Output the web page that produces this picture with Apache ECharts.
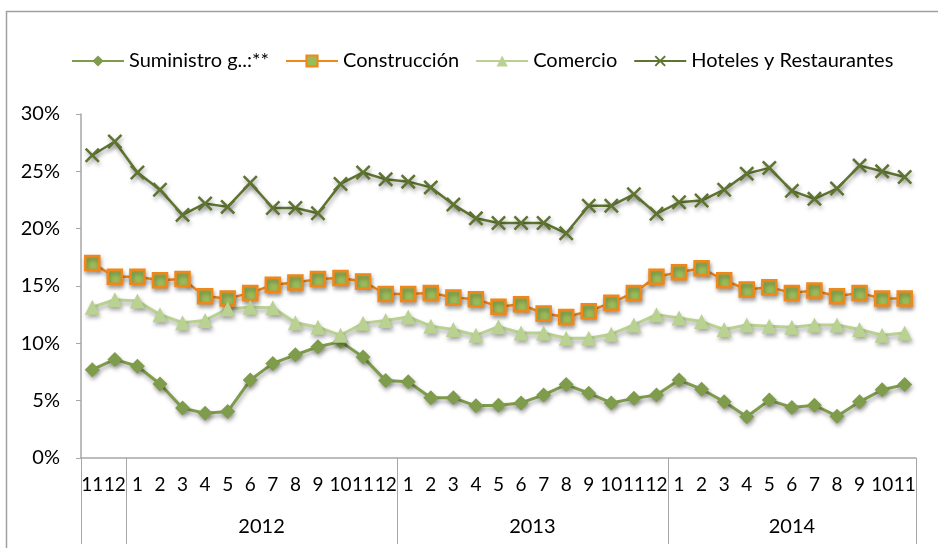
<!DOCTYPE html>
<html>
<head>
<meta charset="utf-8">
<script src="https://cdn.jsdelivr.net/npm/echarts@6/dist/echarts.min.js"></script>
<style>
  html, body { margin: 0; padding: 0; background: #fff; }
  #main { width: 938px; height: 548px; }
</style>
</head>
<body>
<div id="main"></div>
<script>
// meses (nov 2011 - nov 2014)
var months = ['11','12','1','2','3','4','5','6','7','8','9','10','11','12',
  '1','2','3','4','5','6','7','8','9','10','11','12',
  '1','2','3','4','5','6','7','8','9','10','11'];
var years = ['2012', '2013', '2014'];
var yearBounds = [0, 2, 14, 26, 37];
var yearCenters = [8, 20, 31.5];

var suministro = [7.7, 8.6, 8.0, 6.45, 4.35, 3.9, 4.05, 6.8, 8.25, 9.0, 9.7, 10.15, 8.8, 6.75,
  6.65, 5.25, 5.25, 4.55, 4.6, 4.8, 5.5, 6.4, 5.65, 4.8, 5.2, 5.5,
  6.8, 6.0, 4.9, 3.6, 5.05, 4.4, 4.6, 3.65, 4.9, 5.95, 6.4];
var construccion = [17.0, 15.8, 15.8, 15.5, 15.6, 14.1, 13.9, 14.4, 15.1, 15.3, 15.6, 15.7, 15.4, 14.3,
  14.3, 14.4, 14.0, 13.85, 13.2, 13.4, 12.6, 12.3, 12.8, 13.55, 14.4, 15.8,
  16.2, 16.55, 15.5, 14.7, 14.9, 14.4, 14.6, 14.1, 14.4, 13.9, 13.9];
var comercio = [13.15, 13.8, 13.7, 12.5, 11.8, 12.0, 13.0, 13.15, 13.1, 11.8, 11.4, 10.7, 11.75, 12.0,
  12.3, 11.5, 11.2, 10.7, 11.45, 10.9, 10.9, 10.45, 10.45, 10.8, 11.6, 12.5,
  12.2, 11.9, 11.2, 11.6, 11.5, 11.4, 11.6, 11.6, 11.2, 10.7, 10.9];
var hoteles = [26.4, 27.6, 24.9, 23.4, 21.2, 22.2, 21.9, 24.0, 21.8, 21.8, 21.35, 23.9, 24.9, 24.3,
  24.1, 23.6, 22.1, 20.9, 20.5, 20.5, 20.5, 19.6, 22.0, 22.0, 23.0, 21.3,
  22.3, 22.45, 23.4, 24.8, 25.3, 23.3, 22.6, 23.5, 25.5, 25.0, 24.5];

var font = "Lato, 'Noto Sans', sans-serif";
var axisGray = '#a6a6a6';
var xShape = 'path://M1.2,0 L5,3.8 L8.8,0 L10,1.2 L6.2,5 L10,8.8 L8.8,10 L5,6.2 L1.2,10 L0,8.8 L3.8,5 L0,1.2 Z';
var shadow = { shadowColor: 'rgba(0,0,0,0.35)', shadowBlur: 4, shadowOffsetX: 1, shadowOffsetY: 3 };

function lineSeries(name, data, color, symbol, size, extra) {
  var s = {
    name: name,
    type: 'line',
    data: data,
    symbol: symbol,
    symbolSize: size,
    showAllSymbol: true,
    lineStyle: Object.assign({ color: color, width: 3 }, shadow),
    itemStyle: Object.assign({ color: color }, shadow),
    emphasis: { disabled: true }
  };
  return Object.assign(s, extra || {});
}

var chart = echarts.init(document.getElementById('main'));
chart.setOption({
  animation: false,
  textStyle: { fontFamily: font },
  graphic: [{
    type: 'rect',
    shape: { x: 6.5, y: 11.5, width: 1000, height: 600 },
    style: { fill: 'none', stroke: '#a0a0a0', lineWidth: 1.5 },
    silent: true
  }],
  legend: {
    top: 46,
    left: 66,
    itemWidth: 52,
    itemHeight: 14,
    itemGap: 16,
    textStyle: { fontSize: 20, color: '#000', fontFamily: font },
    data: ['Suministro g..:**', 'Construcción', 'Comercio', 'Hoteles y Restaurantes']
  },
  grid: { left: 81, right: 22, top: 114, bottom: 90 },
  xAxis: [{
    type: 'category',
    data: months,
    boundaryGap: true,
    axisLine: { lineStyle: { color: axisGray, width: 1.5 } },
    axisTick: { interval: 0, length: 42, lineStyle: { color: axisGray, width: 1 } },
    axisLabel: { interval: 0, margin: 17, fontSize: 19, color: '#000', fontFamily: font }
  }, {
    type: 'value',
    position: 'bottom',
    min: 0,
    max: 37,
    axisLine: { show: false },
    splitLine: { show: false },
    axisTick: { show: true, length: 86, customValues: yearBounds, lineStyle: { color: axisGray, width: 1 } },
    axisLabel: {
      margin: 59, fontSize: 20, color: '#000', fontFamily: font,
      customValues: yearCenters,
      formatter: function (v) { return years[yearCenters.indexOf(v)]; }
    }
  }],
  yAxis: {
    type: 'value',
    min: 0,
    max: 30,
    interval: 5,
    axisLine: { show: true, lineStyle: { color: axisGray, width: 1.5 } },
    axisTick: { show: true, length: 5, lineStyle: { color: axisGray } },
    splitLine: { show: false },
    axisLabel: { formatter: '{value}%', fontSize: 20, color: '#000', margin: 21, fontFamily: font }
  },
  series: [
    lineSeries('Suministro g..:**', suministro, '#7f9c4c', 'diamond', 15),
    lineSeries('Construcción', construccion, '#f0871a', 'rect', 14, {
      itemStyle: Object.assign({ color: '#9bbb59', borderColor: '#f0871a', borderWidth: 2.5 }, shadow),
      lineStyle: Object.assign({ color: '#f0871a', width: 2.5 }, shadow)
    }),
    lineSeries('Comercio', comercio, '#b9d191', 'triangle', 15),
    lineSeries('Hoteles y Restaurantes', hoteles, '#5e7430', xShape, 15, {
      lineStyle: Object.assign({ color: '#5e7430', width: 2.5 }, shadow)
    })
  ]
});
</script>
</body>
</html>
